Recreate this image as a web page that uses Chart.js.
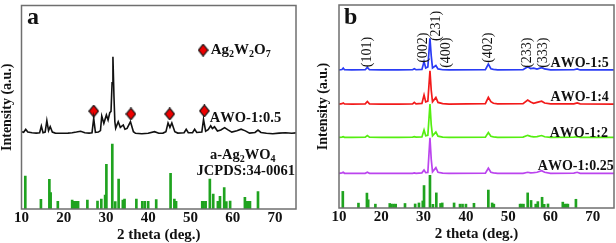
<!DOCTYPE html>
<html>
<head>
<meta charset="utf-8">
<script src="https://cdn.jsdelivr.net/npm/chart.js@4.4.1/dist/chart.umd.min.js"></script>
<style>
  body { margin: 0; background: #fff; }
  #wrap { position: relative; width: 616px; height: 243px; }
  canvas { position: absolute; top: 0; }
</style>
</head>
<body>
<div id="wrap">
  <canvas id="chart_a" width="306" height="243" style="left:0"></canvas>
  <canvas id="chart_b" width="310" height="243" style="left:306px"></canvas>
</div>
<script>
// JCPDS 34-0061 reference sticks (2 theta, relative intensity)
const stick_pos = [10.9, 14.6, 16.6, 16.9, 18.6, 22.0, 22.4, 22.9, 23.4, 25.6, 28.0, 28.9, 29.8, 30.1, 31.5, 32.2, 33.0, 34.0, 34.4, 37.2, 38.6, 39.2, 40.0, 41.9, 45.3, 46.2, 46.6, 52.8, 53.1, 53.6, 54.6, 55.4, 56.5, 57.0, 58.0, 58.5, 59.4, 62.9, 63.4, 63.8, 64.1, 66.0];
const stick_int = [50.8, 14.9, 45.6, 25.1, 11.8, 13.8, 11.8, 11.8, 11.8, 13.8, 12.3, 15.4, 21.5, 68.7, 100, 11.3, 46.2, 13.8, 15.4, 15.4, 11.8, 11.8, 11.8, 14.4, 54.9, 15.4, 11.8, 11.8, 11.8, 11.8, 46.2, 23.1, 11.8, 19.5, 32.8, 11.3, 12.3, 17.9, 11.8, 11.8, 11.8, 26.7];

// panel a: AWO-1:0.5
const awo05_theta = [10.0, 10.5, 11.0, 11.5, 12.5, 13.5, 14.3, 14.7, 15.1, 15.6, 16.0, 16.4, 16.8, 17.3, 18.0, 19.5, 21.0, 22.0, 23.0, 24.0, 25.0, 26.0, 26.7, 27.1, 27.5, 28.2, 28.7, 29.0, 29.5, 30.1, 30.5, 30.9, 31.2, 31.45, 31.65, 31.9, 32.1, 32.3, 32.9, 33.4, 34.1, 34.5, 35.0, 35.8, 36.5, 37.0, 38.5, 40.0, 41.5, 42.5, 43.5, 44.2, 44.7, 45.15, 45.6, 46.3, 47.0, 48.5, 49.0, 49.5, 50.5, 51.0, 51.5, 52.7, 53.1, 53.6, 54.2, 54.8, 55.2, 55.7, 56.4, 57.2, 58.1, 58.8, 59.8, 61.0, 62.0, 63.0, 64.0, 65.3, 66.0, 66.7, 68.0, 69.5, 71.0, 72.5, 74.0, 75.0];
const awo05_int = [38.0, 37.7, 39.1, 37.8, 37.5, 37.3, 37.5, 40.8, 37.5, 37.8, 43.4, 38.5, 40.5, 37.8, 37.3, 37.2, 37.3, 37.5, 37.8, 38.2, 37.5, 37.3, 37.5, 44.6, 37.7, 37.8, 38.5, 45.7, 42.1, 46.2, 43.7, 47.3, 48.0, 62.0, 74.8, 55.0, 43.0, 39.7, 42.9, 40.1, 41.3, 39.2, 39.6, 42.9, 38.0, 37.2, 37.0, 37.2, 38.0, 37.2, 37.3, 38.0, 42.3, 40.1, 42.3, 38.0, 37.3, 37.5, 39.2, 37.5, 37.5, 39.2, 37.6, 37.8, 44.0, 38.2, 39.0, 40.9, 39.5, 40.4, 38.3, 38.8, 40.0, 39.0, 37.8, 38.4, 39.2, 38.4, 37.3, 37.6, 38.8, 37.6, 37.2, 37.0, 37.3, 37.5, 37.2, 37.4];

// Ag2W2O7 markers
const marker_theta = [27.1, 35.9, 45.1, 53.3];
const marker_int = [48.1, 46.7, 46.7, 48.2];

// panel b
const theta_b = [10.0, 10.7, 11.0, 11.3, 13.0, 16.2, 16.7, 17.2, 20.0, 24.0, 27.4, 27.8, 28.2, 29.6, 30.1, 30.5, 31.0, 31.5, 31.8, 32.1, 32.9, 33.4, 34.5, 36.0, 44.6, 45.3, 45.9, 46.5, 47.5, 53.5, 54.6, 55.3, 56.0, 56.8, 57.9, 58.6, 60.0, 65.5, 66.3, 67.0, 75.0];
const awo5_int = [68.0, 68.2, 68.9, 68.1, 68.0, 68.1, 69.3, 68.1, 68.0, 68.0, 68.1, 68.6, 68.1, 68.3, 72.1, 69.0, 69.5, 83.6, 75.0, 69.0, 70.2, 68.5, 68.1, 68.0, 68.1, 70.9, 68.6, 68.3, 68.0, 68.1, 69.6, 68.7, 68.9, 68.4, 69.1, 68.5, 68.0, 68.1, 68.5, 68.0, 68.0];
const awo4_int = [51.2, 51.4, 51.7, 51.3, 51.2, 51.3, 52.5, 51.3, 51.2, 51.2, 51.3, 52.0, 51.3, 51.5, 55.7, 52.3, 52.6, 67.6, 58.0, 52.3, 54.5, 52.0, 51.4, 51.2, 51.4, 54.5, 52.4, 51.6, 51.3, 51.4, 53.2, 52.2, 51.6, 52.0, 52.6, 51.7, 51.3, 51.3, 51.8, 51.3, 51.2];
const awo2_int = [34.8, 34.9, 35.1, 34.8, 34.8, 34.9, 35.7, 34.9, 34.8, 34.8, 34.9, 35.1, 34.9, 35.0, 38.4, 35.6, 35.8, 51.2, 41.0, 35.6, 37.4, 35.4, 34.9, 34.8, 34.9, 37.2, 35.3, 35.0, 34.8, 34.9, 35.8, 35.3, 35.0, 35.2, 35.7, 35.1, 34.8, 34.9, 35.1, 34.8, 34.8];
const awo025_int = [17.1, 17.3, 17.6, 17.1, 17.1, 17.1, 17.6, 17.1, 17.1, 17.1, 17.1, 17.3, 17.1, 17.3, 18.7, 17.4, 17.5, 34.6, 24.0, 17.8, 19.9, 17.6, 17.2, 17.1, 17.2, 19.6, 17.6, 17.3, 17.1, 17.1, 17.6, 17.3, 17.4, 17.6, 18.4, 17.6, 17.1, 17.2, 17.6, 17.1, 17.1];

const hkl_labels = ['(101)', '(002)', '(231)', '(400)', '(402)', '(233)', '(333)'];
const hkl_theta = [16.7, 29.9, 32.9, 35.4, 45.4, 54.6, 58.3];
const hkl_height = [76.8, 79.0, 89.7, 76.5, 79.0, 76.5, 76.5];

const serif = '"Liberation Serif", "Times New Roman", serif';
Chart.defaults.font.family = serif;
Chart.defaults.color = '#111';

function xy (xs, ys) {
  return xs.map((x, i) => ({ x: x, y: ys[i] }));
}

// red diamond, a bit taller than wide
function get_diamond () {
  const c = document.createElement('canvas');
  c.width = 11;
  c.height = 13;
  const ctx = c.getContext('2d');
  ctx.beginPath();
  ctx.moveTo(5.5, 0.7);
  ctx.lineTo(10.3, 6.5);
  ctx.lineTo(5.5, 12.3);
  ctx.lineTo(0.7, 6.5);
  ctx.closePath();
  ctx.fillStyle = '#ee0000';
  ctx.fill();
  ctx.strokeStyle = '#111';
  ctx.lineWidth = 1.2;
  ctx.stroke();
  return c;
}

// draws the box round the plot area
const frame_plugin = {
  id: 'frame',
  afterDraw (chart) {
    const a = chart.chartArea;
    const ctx = chart.ctx;
    ctx.save();
    ctx.strokeStyle = '#6f6f6f';
    ctx.lineWidth = 1.5;
    ctx.strokeRect(a.left, a.top, a.right - a.left, a.bottom - a.top);
    ctx.restore();
  }
};

// text placed at data coordinates, '_' makes the next char a subscript
const notes_plugin = {
  id: 'notes',
  afterDatasetsDraw (chart, args, opts) {
    const ctx = chart.ctx;
    const xs = chart.scales.x;
    const ys = chart.scales.y;
    (opts.items || []).forEach(function (item) {
      const size = item.size || 14;
      const weight = item.weight || 'bold';
      const parts = [];
      for (let i = 0; i < item.text.length; i++) {
        if (item.text[i] == '_') {
          parts.push({ t: item.text[i + 1], sub: true });
          i++;
        } else {
          parts.push({ t: item.text[i], sub: false });
        }
      }
      const sub_size = Math.round(size * 0.68);
      ctx.save();
      ctx.fillStyle = '#111';
      ctx.textBaseline = 'middle';
      let total = 0;
      parts.forEach(function (p) {
        ctx.font = weight + ' ' + (p.sub ? sub_size : size) + 'px ' + serif;
        p.w = ctx.measureText(p.t).width;
        total += p.w;
      });
      ctx.translate(xs.getPixelForValue(item.x), ys.getPixelForValue(item.y));
      if (item.rotate) ctx.rotate(item.rotate * Math.PI / 180);
      let x = item.align == 'center' ? -total / 2 : (item.align == 'right' ? -total : 0);
      parts.forEach(function (p) {
        ctx.font = weight + ' ' + (p.sub ? sub_size : size) + 'px ' + serif;
        ctx.fillText(p.t, x, p.sub ? size * 0.3 : 0);
        x += p.w;
      });
      ctx.restore();
    });
  }
};

function get_x_scale (title_pad, height) {
  return {
    type: 'linear',
    min: 10,
    max: 75,
    offset: false,
    ticks: { stepSize: 10, includeBounds: false, padding: 0, font: { size: 15, weight: 'bold' }, maxRotation: 0 },
    grid: { display: false, drawTicks: false, offset: false },
    border: { display: false },
    title: { display: true, text: '2 theta (deg.)', font: { size: 15, weight: 'bold', lineHeight: 1 }, padding: { top: 0, bottom: title_pad } },
    afterFit: function (s) { s.height = height; }
  };
}

function get_y_scale (title_pad, width) {
  return {
    min: 0,
    max: 100,
    ticks: { display: false },
    grid: { display: false, drawTicks: false },
    border: { display: false },
    title: { display: true, text: 'Intensity (a.u.)', font: { size: 14, weight: 'bold', lineHeight: 1 }, padding: { top: title_pad, bottom: 0 } },
    afterFit: function (s) { s.width = width; }
  };
}

function line_set (data, color, width) {
  return { type: 'line', data: data, borderColor: color, borderWidth: width, pointRadius: 0, tension: 0, yAxisID: 'y' };
}

function stick_set () {
  return { type: 'bar', data: xy(stick_pos, stick_int), backgroundColor: '#1fa31f', barThickness: 2, yAxisID: 'yStick' };
}

const diamond = get_diamond();

new Chart(document.getElementById('chart_a'), {
  type: 'line',
  data: {
    datasets: [
      line_set(xy(awo05_theta, awo05_int), '#111', 1.6),
      {
        type: 'scatter', data: xy(marker_theta, marker_int).concat([{ x: 53.0, y: 78.1 }]),
        pointStyle: diamond, yAxisID: 'y'
      },
      stick_set()
    ]
  },
  options: {
    responsive: false,
    animation: false,
    devicePixelRatio: 1,
    layout: { padding: { top: 5.5, right: 10, left: 0, bottom: 0 } },
    scales: {
      x: get_x_scale(0, 34),
      y: get_y_scale(0, 21.5),
      yStick: { display: false, min: 0, max: 313 }
    },
    plugins: {
      legend: { display: false },
      tooltip: { enabled: false },
      notes: {
        items: [
          { x: 11.3, y: 94.1, text: 'a', size: 24 },
          { x: 54.8, y: 78.1, text: 'Ag_2W_2O_7', size: 15 },
          { x: 54.6, y: 44.7, text: 'AWO-1:0.5', size: 14.5 },
          { x: 62.4, y: 26.4, text: 'a-Ag_2WO_4', size: 14.5, align: 'center' },
          { x: 63.1, y: 18.4, text: 'JCPDS:34-0061', size: 14.5, align: 'center' }
        ]
      }
    }
  },
  plugins: [frame_plugin, notes_plugin]
});

const hkl_notes = hkl_labels.map(function (t, i) {
  return { x: hkl_theta[i], y: hkl_height[i], text: t, size: 14, weight: 'normal', align: 'center', rotate: -90 };
});

new Chart(document.getElementById('chart_b'), {
  type: 'line',
  data: {
    datasets: [
      line_set(xy(theta_b, awo5_int), '#2a3cf5', 1.7),
      line_set(xy(theta_b, awo4_int), '#f21a1a', 1.7),
      line_set(xy(theta_b, awo2_int), '#55ee11', 1.7),
      line_set(xy(theta_b, awo025_int), '#bb44ee', 1.7),
      stick_set()
    ]
  },
  options: {
    responsive: false,
    animation: false,
    devicePixelRatio: 1,
    layout: { padding: { top: 5, right: 2, left: 0, bottom: 0 } },
    scales: {
      x: get_x_scale(1.5, 35),
      y: get_y_scale(10, 33),
      yStick: { display: false, min: 0, max: 621 }
    },
    plugins: {
      legend: { display: false },
      tooltip: { enabled: false },
      notes: {
        items: [
          { x: 11.2, y: 93.6, text: 'b', size: 24 },
          { x: 60.0, y: 71.4, text: 'AWO-1:5' },
          { x: 60.0, y: 54.7, text: 'AWO-1:4' },
          { x: 59.8, y: 36.9, text: 'AWO-1:2' },
          { x: 57.0, y: 20.7, text: 'AWO-1:0.25' }
        ].concat(hkl_notes)
      }
    }
  },
  plugins: [frame_plugin, notes_plugin]
});
</script>
</body>
</html>
